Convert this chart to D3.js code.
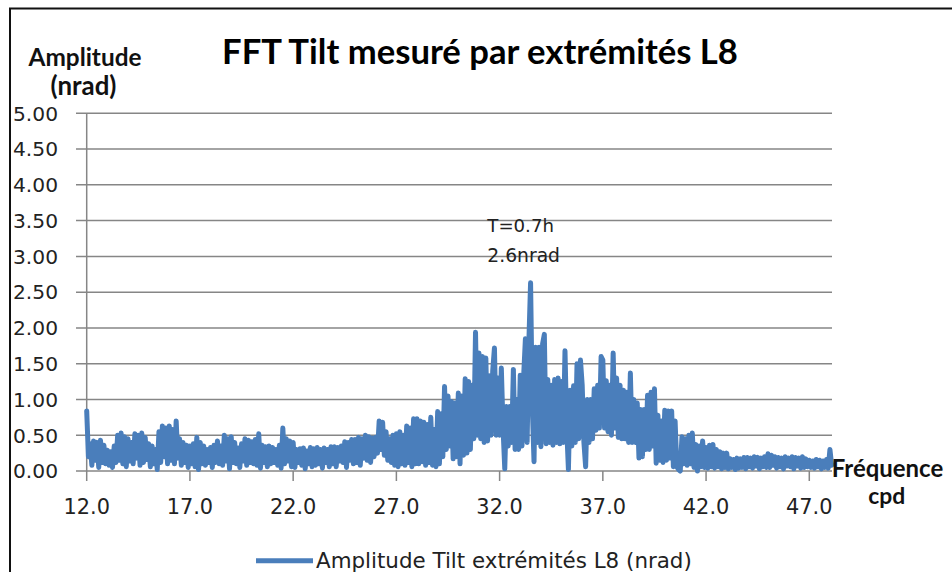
<!DOCTYPE html>
<html><head><meta charset="utf-8">
<script src="https://cdn.jsdelivr.net/npm/d3@7"></script>
<style>html,body{margin:0;padding:0;background:#fff;overflow:hidden}</style>
</head><body>
<svg id="c" width="952" height="572"></svg>
<script>
// ---- data ----
const chartTitle = "FFT Tilt mesuré par extrémités L8";
const yAxisTitle = ["Amplitude", "(nrad)"];
const xAxisTitle = ["Fréquence", "cpd"];
const seriesName = "Amplitude Tilt extrémités L8 (nrad)";
const annotation = ["T=0.7h", "2.6nrad"];
const yTicks = [0, 0.5, 1, 1.5, 2, 2.5, 3, 3.5, 4, 4.5, 5];
const xTicks = [12, 17, 22, 27, 32, 37, 42, 47];
const freqStart = 12, pointsPerCpd = 12;
// amplitude (nrad), 12 points per cpd, starting at 12.0 cpd
const amplitude = [
  0.84, 0.20, 0.38, 0.08, 0.42, 0.15, 0.40, 0.05, 0.43, 0.12, 0.36, 0.10, // 12
  0.29, 0.08, 0.27, 0.05, 0.35, 0.12, 0.50, 0.15, 0.53, 0.10, 0.48, 0.06, // 13
  0.45, 0.14, 0.40, 0.10, 0.52, 0.18, 0.50, 0.08, 0.53, 0.12, 0.47, 0.16, // 14
  0.38, 0.06, 0.35, 0.10, 0.30, 0.02, 0.55, 0.12, 0.63, 0.20, 0.60, 0.10, // 15
  0.63, 0.15, 0.58, 0.10, 0.70, 0.18, 0.45, 0.08, 0.40, 0.12, 0.36, 0.05, // 16
  0.35, 0.10, 0.38, 0.06, 0.47, 0.02, 0.40, 0.10, 0.35, 0.08, 0.30, 0.12, // 17
  0.33, 0.05, 0.36, 0.12, 0.42, 0.10, 0.35, 0.08, 0.50, 0.14, 0.45, 0.03, // 18
  0.48, 0.12, 0.40, 0.10, 0.32, 0.05, 0.38, 0.14, 0.45, 0.08, 0.43, 0.12, // 19
  0.41, 0.10, 0.44, 0.08, 0.52, 0.04, 0.36, 0.12, 0.34, 0.06, 0.35, 0.10, // 20
  0.33, 0.12, 0.30, 0.08, 0.36, 0.04, 0.60, 0.10, 0.45, 0.14, 0.42, 0.06, // 21
  0.40, 0.05, 0.30, 0.12, 0.31, 0.08, 0.32, 0.03, 0.28, 0.10, 0.33, 0.06, // 22
  0.31, 0.08, 0.33, 0.10, 0.30, 0.04, 0.32, 0.12, 0.30, 0.06, 0.34, 0.10, // 23
  0.34, 0.06, 0.33, 0.14, 0.35, 0.12, 0.41, 0.05, 0.40, 0.15, 0.44, 0.10, // 24
  0.44, 0.12, 0.47, 0.08, 0.45, 0.18, 0.50, 0.15, 0.48, 0.12, 0.46, 0.20, // 25
  0.47, 0.25, 0.70, 0.30, 0.68, 0.22, 0.55, 0.15, 0.45, 0.12, 0.50, 0.08, // 26
  0.52, 0.06, 0.55, 0.10, 0.50, 0.08, 0.63, 0.12, 0.60, 0.06, 0.73, 0.10, // 27
  0.73, 0.10, 0.70, 0.13, 0.68, 0.08, 0.65, 0.12, 0.75, 0.08, 0.58, 0.06, // 28
  0.83, 0.10, 0.80, 0.20, 1.18, 0.30, 1.05, 0.35, 0.97, 0.17, 0.95, 0.20, // 29
  1.09, 0.10, 1.05, 0.22, 1.29, 0.25, 1.25, 0.30, 1.20, 0.45, 1.94, 0.50, // 30
  1.65, 0.45, 1.60, 0.40, 1.58, 0.42, 1.33, 0.50, 1.40, 1.72, 0.50, 1.30, // 31
  0.50, 1.44, 0.60, 0.03, 0.90, 0.35, 0.90, 0.40, 1.42, 0.30, 1.00, 0.30, // 32
  1.34, 0.35, 1.34, 1.85, 0.40, 1.80, 2.63, 0.90, 0.13, 1.73, 0.40, 1.73, // 33
  0.34, 1.78, 1.91, 0.38, 1.28, 0.40, 1.20, 0.36, 1.28, 0.40, 1.30, 0.38, // 34
  1.25, 0.40, 1.68, 0.60, 0.02, 1.13, 0.35, 1.19, 0.40, 1.50, 0.45, 1.55, // 35
  1.20, 0.40, 0.06, 1.00, 0.40, 1.00, 0.45, 1.15, 0.57, 1.20, 0.60, 1.60, // 36
  1.55, 0.60, 1.26, 0.55, 1.20, 0.50, 1.65, 0.60, 1.30, 0.47, 1.20, 0.45, // 37
  1.13, 0.45, 1.10, 0.40, 1.37, 0.40, 1.00, 0.40, 0.95, 0.18, 0.86, 0.20, // 38
  0.86, 0.30, 1.06, 0.30, 1.10, 0.35, 1.15, 0.11, 0.78, 0.15, 0.70, 0.12, // 39
  0.85, 0.15, 0.84, 0.18, 0.84, 0.06, 0.70, 0.06, 0.02, 0.00, 0.48, 0.10, // 40
  0.45, 0.08, 0.50, 0.10, 0.53, 0.05, 0.37, 0.00, 0.35, 0.06, 0.42, 0.05, // 41
  0.33, 0.04, 0.36, 0.06, 0.37, 0.04, 0.30, 0.06, 0.27, 0.03, 0.25, 0.05, // 42
  0.25, 0.03, 0.17, 0.05, 0.16, 0.02, 0.18, 0.04, 0.17, 0.05, 0.19, 0.03, // 43
  0.19, 0.06, 0.18, 0.04, 0.20, 0.07, 0.19, 0.03, 0.18, 0.06, 0.20, 0.05, // 44
  0.24, 0.05, 0.22, 0.08, 0.20, 0.04, 0.19, 0.06, 0.18, 0.03, 0.20, 0.07, // 45
  0.18, 0.06, 0.20, 0.03, 0.19, 0.07, 0.18, 0.04, 0.20, 0.05, 0.17, 0.06, // 46
  0.15, 0.05, 0.14, 0.04, 0.16, 0.06, 0.15, 0.03, 0.14, 0.05, 0.16, 0.04, // 47
  0.30, 0.08                                                              // 48
];

// ---- drawing ----
const svg = d3.select("#c");
const x = d3.scaleLinear().domain([12, 48.1]).range([86.7, 832]);
const y = d3.scaleLinear().domain([0, 5]).range([471, 113.3]);
const gridColor = "#868686";
const blue = "#4a7ebb";

function fit(sel, target) {
  const w = sel.node().getComputedTextLength();
  const fs = parseFloat(sel.attr("font-size"));
  sel.attr("font-size", fs * target / w);
  return sel;
}

// frame
svg.append("rect").attr("x", 10).attr("y", 8.5).attr("width", 960).attr("height", 600)
  .attr("fill", "none").attr("stroke", "#111").attr("stroke-width", 2);

// gridlines (with left tick stubs)
svg.append("g").selectAll("line").data(yTicks).join("line")
  .attr("x1", 76).attr("x2", 832)
  .attr("y1", d => y(d)).attr("y2", d => y(d))
  .attr("stroke", gridColor).attr("stroke-width", 1.5);

// y axis line
svg.append("line").attr("x1", x(12)).attr("x2", x(12)).attr("y1", y(5)).attr("y2", y(0))
  .attr("stroke", gridColor).attr("stroke-width", 1.5);

// x ticks
svg.append("g").selectAll("line").data(xTicks).join("line")
  .attr("x1", d => x(d)).attr("x2", d => x(d)).attr("y1", y(0)).attr("y2", y(0) + 10)
  .attr("stroke", gridColor).attr("stroke-width", 1.5);

// y tick labels
const yl = svg.append("g").selectAll("text").data(yTicks).join("text")
  .attr("x", 58).attr("y", d => y(d) + 7.3).attr("text-anchor", "end")
  .attr("font-family", "DejaVu Sans").attr("font-size", 20).attr("fill", "#222")
  .text(d => d.toFixed(2));
fit(d3.select(yl.nodes()[10]), 45);
yl.attr("font-size", d3.select(yl.nodes()[10]).attr("font-size"));

// x tick labels
const xl = svg.append("g").selectAll("text").data(xTicks).join("text")
  .attr("x", d => x(d)).attr("y", 513.5).attr("text-anchor", "middle")
  .attr("font-family", "DejaVu Sans").attr("font-size", 20).attr("fill", "#222")
  .text(d => d.toFixed(1));
fit(d3.select(xl.nodes()[0]), 46.5);
xl.attr("font-size", d3.select(xl.nodes()[0]).attr("font-size"));

// series
const pts = amplitude.map((v, i) => [freqStart + i / pointsPerCpd, v]);
svg.append("path").datum(pts)
  .attr("d", d3.line().x(d => x(d[0])).y(d => y(d[1])))
  .attr("fill", "none").attr("stroke", blue).attr("stroke-width", 5)
  .attr("stroke-linejoin", "round").attr("stroke-linecap", "round");

// title
fit(svg.append("text").attr("x", 480).attr("y", 63.5).attr("text-anchor", "middle")
  .attr("font-family", "Lato").attr("font-weight", "bold").attr("font-size", 30)
  .attr("fill", "#000").text(chartTitle), 516);

// y axis title
fit(svg.append("text").attr("x", 85).attr("y", 65.5).attr("text-anchor", "middle")
  .attr("font-family", "Lato").attr("font-weight", "bold").attr("font-size", 19)
  .attr("fill", "#111").text(yAxisTitle[0]), 113);
fit(svg.append("text").attr("x", 83.5).attr("y", 95).attr("text-anchor", "middle")
  .attr("font-family", "Lato").attr("font-weight", "bold").attr("font-size", 19)
  .attr("fill", "#111").text(yAxisTitle[1]), 66);

// x axis title
fit(svg.append("text").attr("x", 887.5).attr("y", 476.7).attr("text-anchor", "middle")
  .attr("font-family", "Lato").attr("font-weight", "bold").attr("font-size", 19)
  .attr("fill", "#111").text(xAxisTitle[0]), 111.5);
fit(svg.append("text").attr("x", 886.7).attr("y", 504).attr("text-anchor", "middle")
  .attr("font-family", "Lato").attr("font-weight", "bold").attr("font-size", 19)
  .attr("fill", "#111").text(xAxisTitle[1]), 37);

// annotation
fit(svg.append("text").attr("x", 487.3).attr("y", 232.3)
  .attr("font-family", "DejaVu Sans").attr("font-size", 17).attr("fill", "#222")
  .text(annotation[0]), 66.7);
fit(svg.append("text").attr("x", 487.3).attr("y", 261.7)
  .attr("font-family", "DejaVu Sans").attr("font-size", 17).attr("fill", "#222")
  .text(annotation[1]), 72.7);

// legend
svg.append("line").attr("x1", 256).attr("x2", 313).attr("y1", 560.7).attr("y2", 560.7)
  .attr("stroke", blue).attr("stroke-width", 5);
fit(svg.append("text").attr("x", 316).attr("y", 567.5)
  .attr("font-family", "DejaVu Sans").attr("font-size", 19).attr("fill", "#222")
  .text(seriesName), 376);
</script>
</body></html>
